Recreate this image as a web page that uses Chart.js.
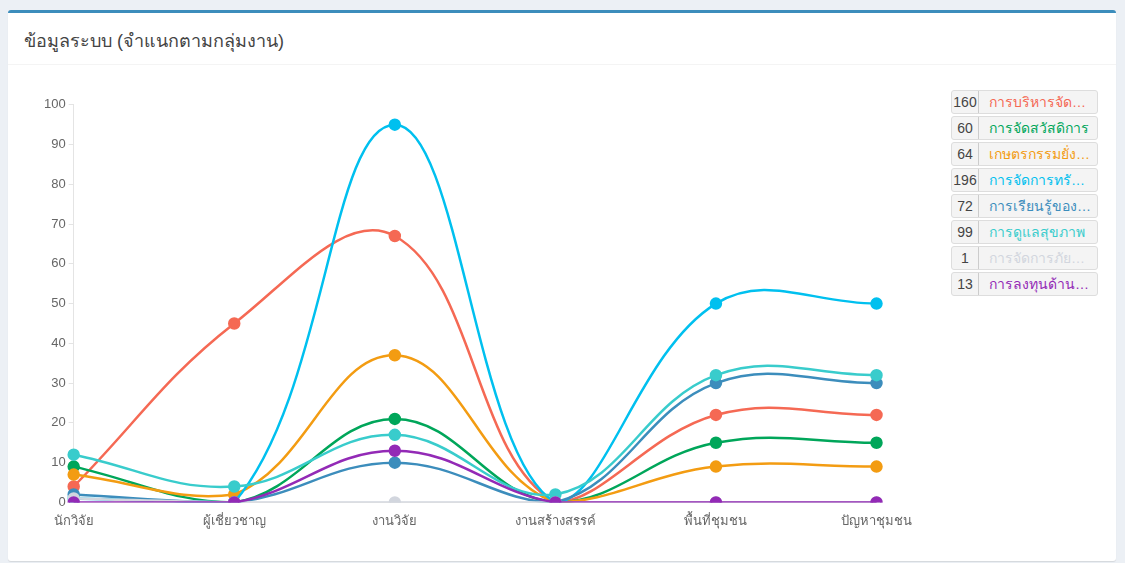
<!DOCTYPE html>
<html>
<head>
<meta charset="utf-8">
<script src="https://cdn.jsdelivr.net/npm/chart.js@4/dist/chart.umd.min.js"></script>
<style>
  body { margin: 0; background: #ecf0f5; font-family: "Liberation Sans", Arial, sans-serif; }
  .box { position: absolute; left: 8px; top: 10px; width: 1108px; height: 548px;
         background: #fff; border-top: 3px solid #3c8dbc; border-radius: 3px;
         box-shadow: 0 1px 1px rgba(0,0,0,0.1); }
  .box-header { height: 51px; border-bottom: 1px solid #f4f4f4; }
  .box-header h3 { margin: 0; padding: 13px 0 0 16px; font-size: 18px; font-weight: normal; color: #444; }
  .chart-wrap { position: absolute; left: 33px; top: 81px; width: 874px; height: 438px; }
  .legend { position: absolute; left: 943px; top: 77px; width: 147px; margin: 0; padding: 0; list-style: none; }
  .legend li { height: 22px; margin-bottom: 2px; border: 1px solid #ddd; border-radius: 3px;
               background: #f4f4f4; display: flex; align-items: center; font-size: 14px; }
  .legend .num { width: 26px; text-align: center; color: #444; font-size: 14px; border-right: 1px solid #ccc;
                 height: 22px; line-height: 22px; }
  .legend .lbl { flex: 1; padding-left: 10px; padding-right: 6px; white-space: nowrap; overflow: hidden; text-overflow: ellipsis; }
</style>
</head>
<body>
<div class="box">
  <div class="box-header"><h3>ข้อมูลระบบ (จำแนกตามกลุ่มงาน)</h3></div>
  <div class="chart-wrap"><canvas id="lineChart"></canvas></div>
  <ul class="legend" id="legend"></ul>
</div>
<script>
// categories on the x axis
var categories = ['นักวิจัย', 'ผู้เชี่ยวชาญ', 'งานวิจัย', 'งานสร้างสรรค์', 'พื้นที่ชุมชน', 'ปัญหาชุมชน'];

// series names (legend) and their colours
var seriesNames = ['การบริหารจัดการ', 'การจัดสวัสดิการ', 'เกษตรกรรมยั่งยืน', 'การจัดการทรัพยากร',
                   'การเรียนรู้ของเด็ก', 'การดูแลสุขภาพ', 'การจัดการภัยพิบัติ', 'การลงทุนด้านสังคม'];
var seriesColors = ['#f56954', '#00a65a', '#f39c12', '#00c0ef', '#3c8dbc', '#39cccc', '#d2d6de', '#932ab6'];

// values per series
var management = [4, 45, 67, 0, 22, 22];
var welfare    = [9, 0, 21, 0, 15, 15];
var farming    = [7, 2, 37, 0, 9, 9];
var resources  = [1, 0, 95, 0, 50, 50];
var learning   = [2, 0, 10, 0, 30, 30];
var health     = [12, 4, 17, 2, 32, 32];
var disaster   = [1, 0, 0, 0, 0, 0];
var investment = [0, 0, 13, 0, 0, 0];

var seriesValues = [management, welfare, farming, resources, learning, health, disaster, investment];

var datasets = seriesValues.map(function (vals, i) {
    return {
        label: seriesNames[i],
        data: vals,
        borderColor: seriesColors[i],
        backgroundColor: seriesColors[i],
        pointBackgroundColor: seriesColors[i],
        pointBorderColor: seriesColors[i],
        borderWidth: 2.5,
        pointRadius: 5,
        tension: 0.4,
        fill: false,
        order: seriesValues.length - i
    };
});

// html legend with totals
var legend = document.getElementById('legend');
seriesValues.forEach(function (vals, i) {
    var total = vals.reduce(function (a, b) { return a + b; }, 0);
    var li = document.createElement('li');
    li.innerHTML = '<span class="num">' + total + '</span><span class="lbl" style="color:' +
        seriesColors[i] + '">' + seriesNames[i] + '</span>';
    legend.appendChild(li);
});

new Chart(document.getElementById('lineChart'), {
    type: 'line',
    data: { labels: categories, datasets: datasets },
    options: {
        responsive: true,
        maintainAspectRatio: false,
        animation: false,
        layout: { padding: { top: 6, right: 0, left: 0, bottom: 0 } },
        plugins: { legend: { display: false }, tooltip: { enabled: false } },
        scales: {
            x: {
                grid: { display: false },
                border: { color: '#e4e4e4', width: 1 },
                ticks: { color: '#666', font: { size: 13, family: 'Liberation Sans' }, maxRotation: 0 }
            },
            y: {
                min: 0,
                max: 100,
                ticks: { stepSize: 10, color: '#666', font: { size: 13, family: 'Liberation Sans' } },
                grid: { drawOnChartArea: false, drawTicks: true, tickLength: 5, color: '#e4e4e4' },
                border: { color: '#e4e4e4', width: 1 }
            }
        }
    }
});
</script>
</body>
</html>
